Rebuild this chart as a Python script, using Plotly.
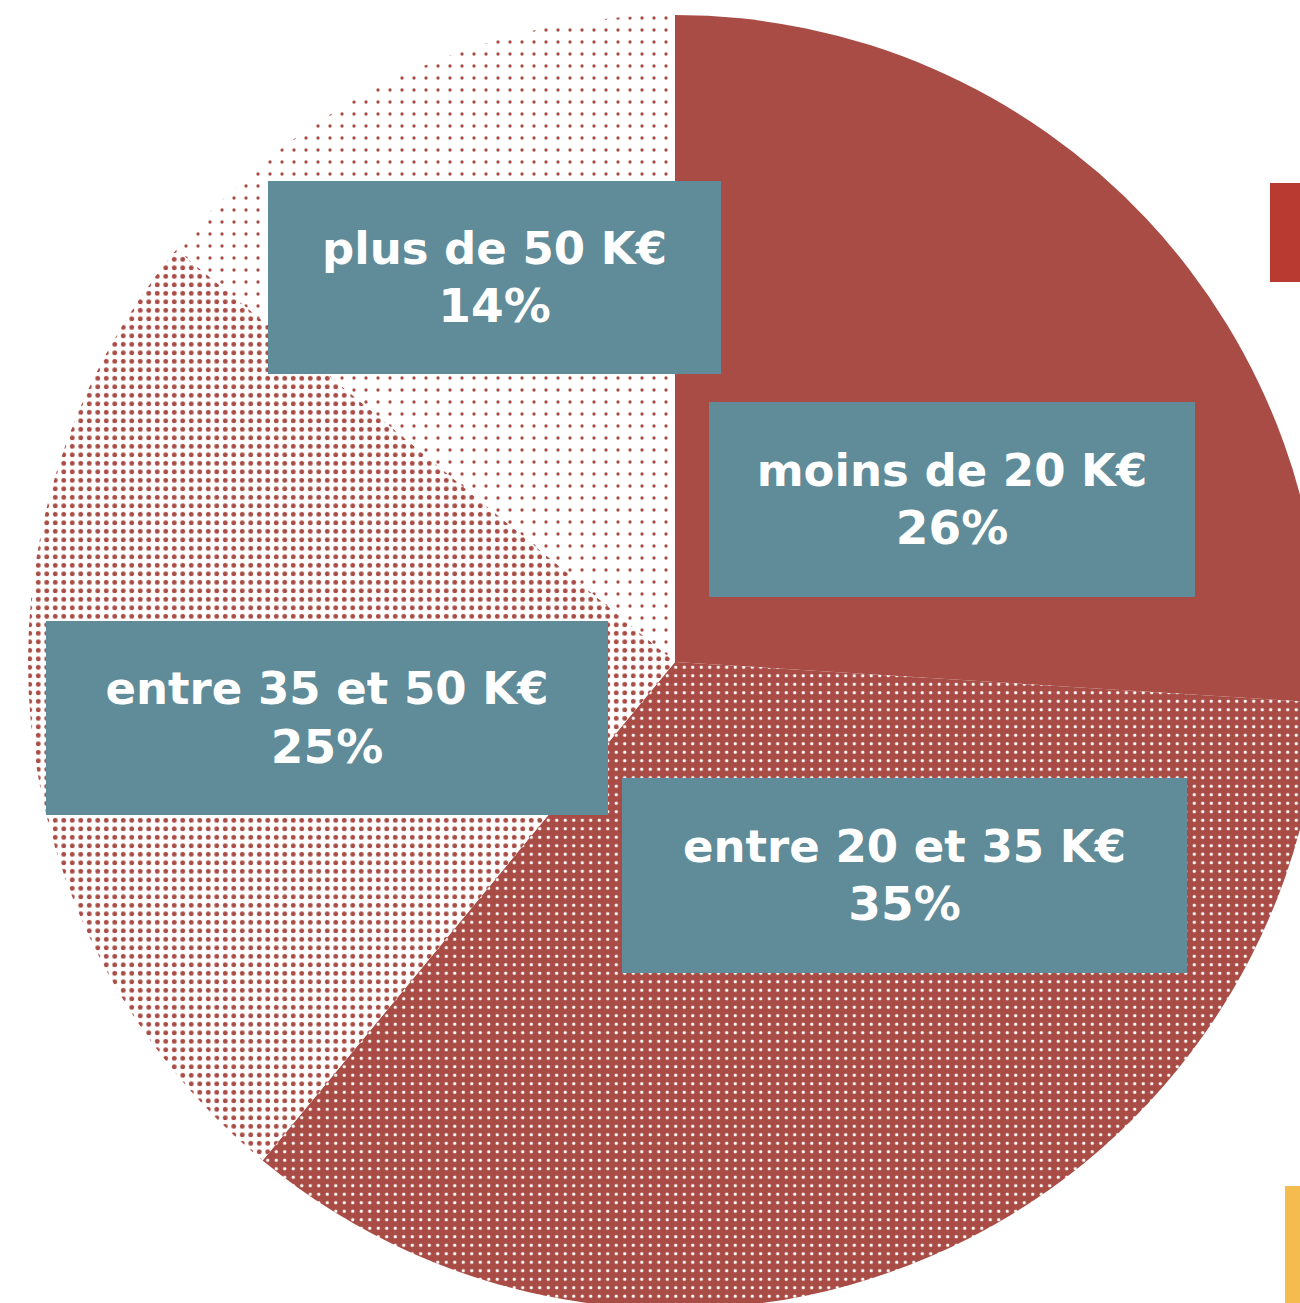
import plotly.graph_objects as go

# ---- data ----
categories = ["moins de 20 K€", "entre 20 et 35 K€", "entre 35 et 50 K€", "plus de 50 K€"]
values = [26, 35, 25, 14]
pct_labels = ["26%", "35%", "25%", "14%"]

RED = "#A84C45"
TEAL = "#5F8C98"

W, H = 1330, 1315
OFF = 0  # body margin removed via post_script

def px(sx):
    return (sx - OFF) / W

def py(sy):
    return 1 - (sy - OFF) / H

# pie geometry (screen px)
cx, cy, r = 675, 662, 647
dom_x = [px(cx - r), px(cx + r)]
dom_y = [py(cy + r), py(cy - r)]

fig = go.Figure()
fig.add_trace(go.Pie(
    labels=categories,
    values=values,
    sort=False,
    direction="clockwise",
    rotation=0,
    textinfo="none",
    hoverinfo="label+percent",
    showlegend=False,
    domain=dict(x=dom_x, y=dom_y),
    marker=dict(
        colors=[RED, RED, "white", "white"],
        line=dict(width=0),
        pattern=dict(
            shape=["", ".", ".", "."],
            fgcolor=[RED, "white", RED, RED],
            bgcolor=[RED, RED, "white", "white"],
            size=[8, 8.5, 8.5, 12],
            solidity=[0.1, 0.12, 0.25, 0.06],
            fillmode="replace",
        ),
    ),
))

# label boxes (screen px): x0, x1, y0, y1
boxes = [
    (709, 1195, 402, 597),
    (622, 1187, 778, 973),
    (46, 608, 621, 815),
    (268, 721, 181, 374),
]
for (x0, x1, y0, y1), cat, pct in zip(boxes, categories, pct_labels):
    fig.add_annotation(
        x=px((x0 + x1) / 2), y=py((y0 + y1) / 2),
        xref="paper", yref="paper", xanchor="center", yanchor="middle",
        text=f"{cat}<br><span style='font-size:47px'>{pct}</span>",
        showarrow=False,
        width=x1 - x0, height=y1 - y0,
        bgcolor=TEAL, borderwidth=0, borderpad=0,
        font=dict(family="DejaVu Sans", size=45, color="white", weight="bold"),
        align="center", valign="middle",
    )

# cropped elements on the right edge
fig.add_shape(type="rect", xref="paper", yref="paper",
              x0=px(1270), x1=px(1340), y0=py(282), y1=py(183),
              fillcolor="#B93A30", line=dict(width=0))
fig.add_shape(type="rect", xref="paper", yref="paper",
              x0=px(1285), x1=px(1340), y0=py(1330), y1=py(1186),
              fillcolor="#F4BC4E", line=dict(width=0))

fig.update_layout(
    width=W, height=H,
    margin=dict(l=0, r=0, t=0, b=0),
    paper_bgcolor="white", plot_bgcolor="white",
)

fig.write_html(
    "out.html",
    config={"displayModeBar": False},
    post_script=(
        "document.body.style.margin='0';"
        "document.body.style.overflow='hidden';"
        "document.documentElement.style.overflow='hidden';"
    ),
)
